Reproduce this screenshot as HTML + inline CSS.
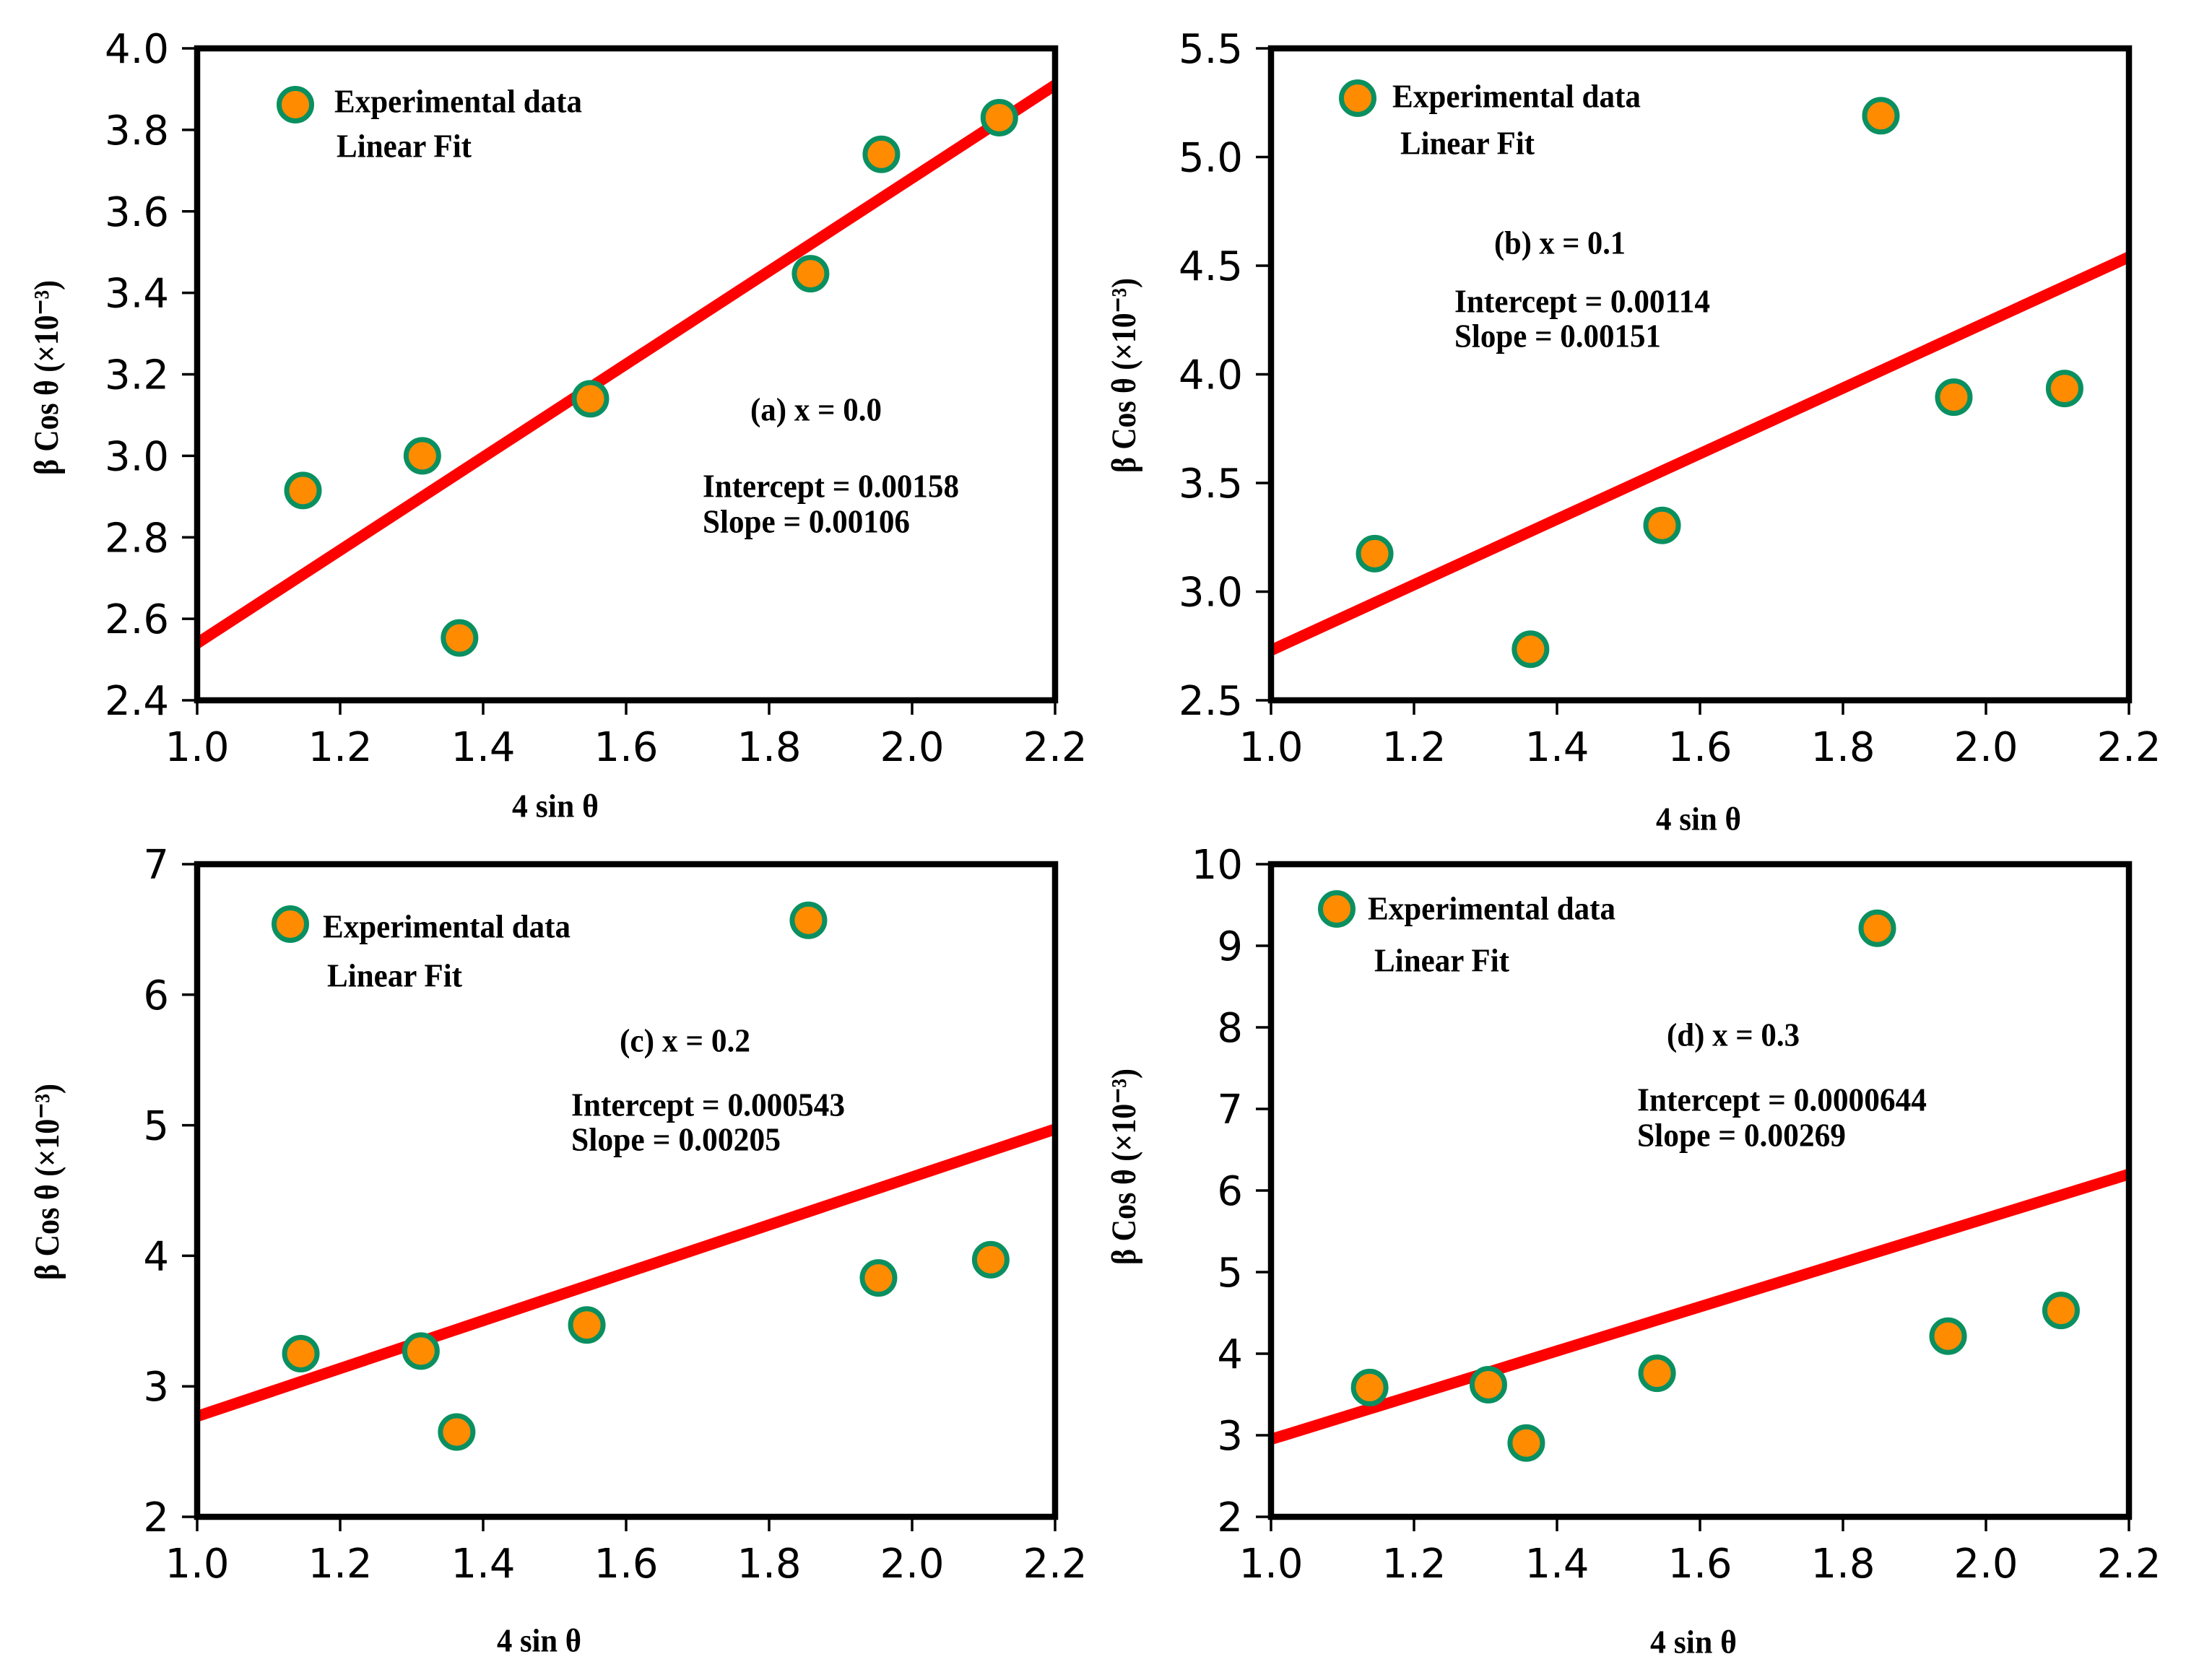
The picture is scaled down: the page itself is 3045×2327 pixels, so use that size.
<!DOCTYPE html>
<html lang="en">
<head>
<meta charset="utf-8">
<title>Williamson-Hall plots</title>
<style>
html,body{margin:0;padding:0;background:#fff;}
svg{display:block;}
.note{font-family:"Liberation Serif",serif;font-weight:bold;fill:#000;}
.note text:not([transform]){transform:translateY(1.5px);}
</style>
</head>
<body>
<svg id="figure" xmlns="http://www.w3.org/2000/svg" width="3045" height="2327" viewBox="0 0 3045 2327">
<rect width="3045" height="2327" fill="#fff"/>
<g id="plots"></g>

<g class="note" font-size="45">
<circle cx="409" cy="145" r="22.5" fill="#ff8c00" stroke="#0a9060" stroke-width="7"/>
<text x="463" y="154" textLength="343" lengthAdjust="spacingAndGlyphs">Experimental data</text>
<text x="466" y="216" textLength="187" lengthAdjust="spacingAndGlyphs">Linear Fit</text>
<text x="1039" y="581" textLength="182" lengthAdjust="spacingAndGlyphs">(a) x = 0.0</text>
<text x="973" y="687" textLength="355" lengthAdjust="spacingAndGlyphs">Intercept = 0.00158</text>
<text x="973" y="736" textLength="287" lengthAdjust="spacingAndGlyphs">Slope = 0.00106</text>
<text x="709" y="1130" textLength="120" lengthAdjust="spacingAndGlyphs">4 sin θ</text>
<text font-size="48" transform="translate(80,658) rotate(-90)" textLength="270" lengthAdjust="spacingAndGlyphs">β Cos θ (×10⁻³)</text>
</g>

<g class="note" font-size="45">
<circle cx="1880" cy="136" r="22.5" fill="#ff8c00" stroke="#0a9060" stroke-width="7"/>
<text x="1928" y="147" textLength="344" lengthAdjust="spacingAndGlyphs">Experimental data</text>
<text x="1939" y="212" textLength="186" lengthAdjust="spacingAndGlyphs">Linear Fit</text>
<text x="2069" y="350" textLength="182" lengthAdjust="spacingAndGlyphs">(b) x = 0.1</text>
<text x="2014" y="431" textLength="354" lengthAdjust="spacingAndGlyphs">Intercept = 0.00114</text>
<text x="2014" y="479" textLength="286" lengthAdjust="spacingAndGlyphs">Slope = 0.00151</text>
<text x="2293" y="1148" textLength="118" lengthAdjust="spacingAndGlyphs">4 sin θ</text>
<text font-size="48" transform="translate(1572,655) rotate(-90)" textLength="270" lengthAdjust="spacingAndGlyphs">β Cos θ (×10⁻³)</text>
</g>

<g class="note" font-size="45">
<circle cx="402" cy="1280" r="22.5" fill="#ff8c00" stroke="#0a9060" stroke-width="7"/>
<text x="447" y="1297" textLength="343" lengthAdjust="spacingAndGlyphs">Experimental data</text>
<text x="453" y="1365" textLength="187" lengthAdjust="spacingAndGlyphs">Linear Fit</text>
<text x="858" y="1455" textLength="181" lengthAdjust="spacingAndGlyphs">(c) x = 0.2</text>
<text x="791" y="1544" textLength="379" lengthAdjust="spacingAndGlyphs">Intercept = 0.000543</text>
<text x="791" y="1592" textLength="290" lengthAdjust="spacingAndGlyphs">Slope = 0.00205</text>
<text x="688" y="2286" textLength="117" lengthAdjust="spacingAndGlyphs">4 sin θ</text>
<text font-size="48" transform="translate(81,1773) rotate(-90)" textLength="272" lengthAdjust="spacingAndGlyphs">β Cos θ (×10⁻³)</text>
</g>

<g class="note" font-size="45">
<circle cx="1851" cy="1259" r="22.5" fill="#ff8c00" stroke="#0a9060" stroke-width="7"/>
<text x="1894" y="1272" textLength="343" lengthAdjust="spacingAndGlyphs">Experimental data</text>
<text x="1903" y="1344" textLength="187" lengthAdjust="spacingAndGlyphs">Linear Fit</text>
<text x="2308" y="1447" textLength="184" lengthAdjust="spacingAndGlyphs">(d) x = 0.3</text>
<text x="2267" y="1537" textLength="401" lengthAdjust="spacingAndGlyphs">Intercept = 0.0000644</text>
<text x="2267" y="1586" textLength="289" lengthAdjust="spacingAndGlyphs">Slope = 0.00269</text>
<text x="2285" y="2288" textLength="120" lengthAdjust="spacingAndGlyphs">4 sin θ</text>
<text font-size="48" transform="translate(1572,1752) rotate(-90)" textLength="272" lengthAdjust="spacingAndGlyphs">β Cos θ (×10⁻³)</text>
</g>
</svg>

<script>
// Shared axis data
var xTickLabels = ['1.0', '1.2', '1.4', '1.6', '1.8', '2.0', '2.2'];
var fitX = [1.0, 2.2];

// Panel (a)
var aYTickLabels = ['2.4', '2.6', '2.8', '3.0', '3.2', '3.4', '3.6', '3.8', '4.0'];
var aPointX = [1.148, 1.315, 1.367, 1.55, 1.858, 1.957, 2.122];
var aPointY = [2.915, 3.0, 2.553, 3.14, 3.447, 3.74, 3.83];
var aFitY = [2.54, 3.91];

// Panel (b)
var bYTickLabels = ['2.5', '3.0', '3.5', '4.0', '4.5', '5.0', '5.5'];
var bPointX = [1.145, 1.363, 1.547, 1.853, 1.955, 2.11];
var bPointY = [3.175, 2.735, 3.305, 5.19, 3.895, 3.935];
var bFitY = [2.73, 4.54];

// Panel (c)
var cYTickLabels = ['2', '3', '4', '5', '6', '7'];
var cPointX = [1.145, 1.313, 1.363, 1.545, 1.855, 1.953, 2.11];
var cPointY = [3.25, 3.27, 2.65, 3.47, 6.57, 3.83, 3.97];
var cFitY = [2.77, 4.97];

// Panel (d)
var dYTickLabels = ['2', '3', '4', '5', '6', '7', '8', '9', '10'];
var dPointX = [1.138, 1.304, 1.357, 1.54, 1.848, 1.947, 2.105];
var dPointY = [3.585, 3.62, 2.905, 3.76, 9.215, 4.215, 4.53];
var dFitY = [2.95, 6.2];

var SVG_NS = 'http://www.w3.org/2000/svg';
var plots = document.getElementById('plots');

function make(tag, attrs, parent) {
  var el = document.createElementNS(SVG_NS, tag);
  for (var k in attrs) el.setAttribute(k, attrs[k]);
  parent.appendChild(el);
  return el;
}

function drawPanel(id, box, yLabels, ptsX, ptsY, fitY) {
  var xMin = Number(xTickLabels[0]);
  var xMax = Number(xTickLabels[xTickLabels.length - 1]);
  var yMin = Number(yLabels[0]);
  var yMax = Number(yLabels[yLabels.length - 1]);
  function sx(v) { return box.left + (v - xMin) / (xMax - xMin) * (box.right - box.left); }
  function sy(v) { return box.bottom - (v - yMin) / (yMax - yMin) * (box.bottom - box.top); }

  var g = make('g', {}, plots);
  
  

  var clip = make('clipPath', { id: 'clip-' + id }, g);
  make('rect', { x: box.left, y: box.top, width: box.right - box.left, height: box.bottom - box.top }, clip);

  var fit = make('line', {
    x1: sx(fitX[0]), y1: sy(fitY[0]), x2: sx(fitX[1]), y2: sy(fitY[1]),
    stroke: '#ff0000', 'stroke-width': 15.5, 'clip-path': 'url(#clip-' + id + ')'
  }, g);
  
  

  ptsX.forEach(function (v, i) {
    var pt = make('circle', {
      cx: sx(v), cy: sy(ptsY[i]), r: 22.5,
      fill: '#ff8c00', stroke: '#0a9060', 'stroke-width': 7
    }, g);
    
    
  });

  var frame = make('rect', {
    x: box.left, y: box.top, width: box.right - box.left, height: box.bottom - box.top,
    fill: 'none', stroke: '#000', 'stroke-width': 8.5
  }, g);
  
  

  xTickLabels.forEach(function (lab) {
    var x = sx(Number(lab));
    var tick = make('line', { x1: x, y1: box.bottom, x2: x, y2: box.bottom + 20, stroke: '#000', 'stroke-width': 3.5 }, g);
    
    
    var t = make('text', {
      x: x, y: box.bottom + 84,
      'text-anchor': 'middle', 'font-family': '"DejaVu Sans", sans-serif', 'font-size': 56, fill: '#000'
    }, g);
    t.textContent = lab;
    
    
  });

  yLabels.forEach(function (lab) {
    var y = sy(Number(lab));
    var tick = make('line', { x1: box.left - 21, y1: y, x2: box.left, y2: y, stroke: '#000', 'stroke-width': 3.5 }, g);
    
    
    var t = make('text', {
      x: box.left - 39, y: y + 20,
      'text-anchor': 'end', 'font-family': '"DejaVu Sans", sans-serif', 'font-size': 56, fill: '#000'
    }, g);
    t.textContent = lab;
    
    
  });
}

drawPanel('a', { left: 273, right: 1461, top: 67, bottom: 970 }, aYTickLabels, aPointX, aPointY, aFitY);
drawPanel('b', { left: 1760, right: 2948, top: 67, bottom: 970 }, bYTickLabels, bPointX, bPointY, bFitY);
drawPanel('c', { left: 273, right: 1461, top: 1197, bottom: 2101 }, cYTickLabels, cPointX, cPointY, cFitY);
drawPanel('d', { left: 1760, right: 2948, top: 1197, bottom: 2101 }, dYTickLabels, dPointX, dPointY, dFitY);
</script>
</body>
</html>
